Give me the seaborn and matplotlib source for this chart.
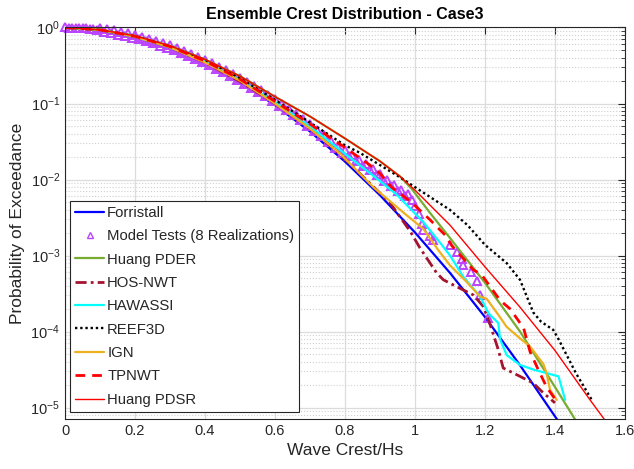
import numpy as np
import pandas as pd
import matplotlib
matplotlib.use("Agg")
import matplotlib.pyplot as plt
import seaborn as sns
from matplotlib.ticker import LogLocator, NullFormatter, FixedLocator

# ---------------- data ----------------
forr_x = [0, 0.1, 0.2, 0.3, 0.4, 0.5, 0.6, 0.7, 0.8, 0.9, 1.0, 1.1, 1.2, 1.3, 1.43]
forr_p = [1, 0.925, 0.746, 0.532, 0.336, 0.189, 0.0952, 0.0428, 0.0172, 0.00621,
          0.00201, 5.9e-4, 1.55e-4, 3.6e-5, 4.8e-6]

mt_x = [0.00, 0.01, 0.02, 0.03, 0.04, 0.05, 0.06, 0.07, 0.08, 0.09,
        0.10, 0.11, 0.12, 0.13, 0.14, 0.15, 0.16, 0.17, 0.18, 0.19,
        0.20, 0.21, 0.22, 0.23, 0.24, 0.25, 0.26, 0.27, 0.28, 0.29,
        0.30, 0.31, 0.32, 0.33, 0.34, 0.35, 0.36, 0.37, 0.38, 0.39,
        0.40, 0.41, 0.42, 0.43, 0.44, 0.45, 0.46, 0.47, 0.48, 0.49,
        0.50, 0.51, 0.52, 0.53, 0.54, 0.55, 0.56, 0.57, 0.58, 0.59,
        0.60, 0.61, 0.62, 0.63, 0.64, 0.65, 0.66, 0.67, 0.68, 0.69,
        0.70, 0.71, 0.72, 0.73, 0.74, 0.75, 0.76, 0.77, 0.78, 0.79,
        0.80, 0.81, 0.82, 0.83, 0.84, 0.85, 0.86, 0.87, 0.88, 0.89,
        0.90, 0.91, 0.92, 0.93, 0.94, 0.95, 0.96, 0.97, 0.98, 0.99,
        1.00, 1.01, 1.02, 1.024, 1.043, 1.052, 1.10, 1.119, 1.133, 1.136,
        1.159, 1.176, 1.187, 1.208]
mt_p = [1.0, 0.9991, 0.9965, 0.9917, 0.987, 0.9795, 0.9721, 0.9623, 0.9526, 0.9404,
        0.9833, 0.8630, 0.9537, 0.8348, 0.9201, 0.8035, 0.8835, 0.7700, 0.8444, 0.7336,
        0.8022, 0.6955, 0.7597, 0.6572, 0.7160, 0.6174, 0.6705, 0.5776, 0.6266, 0.5379,
        0.5816, 0.4984, 0.5375, 0.4602, 0.4958, 0.4229, 0.4543, 0.3866, 0.4144, 0.3520,
        0.3764, 0.3193, 0.3410, 0.2881, 0.3064, 0.2588, 0.2753, 0.2318, 0.2457, 0.2062,
        0.2179, 0.1828, 0.1932, 0.1613, 0.1697, 0.1418, 0.1492, 0.1244, 0.1306, 0.1085,
        0.1135, 0.09410, 0.09824, 0.08120, 0.08450, 0.06990, 0.07281, 0.05998, 0.06220,
        0.05117, 0.05301, 0.04357, 0.04509, 0.03686, 0.03794, 0.03098, 0.03185, 0.02594,
        0.02661, 0.02265, 0.02421, 0.02009, 0.02099, 0.01746, 0.01828, 0.01521, 0.01596,
        0.01327, 0.01390, 0.01140, 0.01180, 0.00966, 0.00998, 0.00818, 0.00847, 0.00705,
        0.00738, 0.00610, 0.00638, 0.00531,
        0.00447, 0.00355, 0.00263, 0.00219, 0.00178, 0.00158, 0.00138, 0.0011, 8.91e-4,
        7.59e-4, 6.03e-4, 4.57e-4, 3.02e-4, 1.51e-4]

pder_x = [0, 0.1, 0.2, 0.3, 0.4, 0.5, 0.6, 0.7, 0.8, 0.9, 0.957, 0.99, 1.043, 1.1,
          1.2, 1.3, 1.4, 1.47]
pder_p = [1, 0.933, 0.776, 0.575, 0.380, 0.229, 0.123, 0.0676, 0.0347, 0.0174, 0.0110,
          0.00759, 0.00363, 0.0017, 4.37e-4, 1.0e-4, 1.86e-5, 5.62e-6]

hos_x = [0, 0.1, 0.2, 0.3, 0.4, 0.5, 0.6, 0.7, 0.786, 0.833, 0.929, 0.986, 1.014,
         1.062, 1.081, 1.119, 1.167, 1.195, 1.214, 1.238, 1.252, 1.3, 1.338, 1.367, 1.4]
hos_p = [1, 0.933, 0.759, 0.550, 0.347, 0.195, 0.1, 0.0468, 0.0214, 0.0132, 0.0049,
         0.00209, 0.00126, 5.89e-4, 4.79e-4, 3.89e-4, 3.02e-4, 2.14e-4, 1.26e-4,
         5.75e-5, 3.31e-5, 2.57e-5, 2.09e-5, 1.55e-5, 1.15e-5]

haw_x = [0, 0.1, 0.2, 0.3, 0.4, 0.5, 0.6, 0.7, 0.786, 0.881, 0.948, 1.024, 1.075, 1.1,
         1.138, 1.186, 1.21, 1.238, 1.243, 1.262, 1.3, 1.338, 1.41, 1.429]
haw_p = [1, 0.933, 0.759, 0.550, 0.355, 0.204, 0.105, 0.0501, 0.0245, 0.0112, 0.00631,
         0.00275, 0.00141, 0.001, 5.25e-4, 2.88e-4, 1.74e-4, 1.29e-4, 7.94e-5, 4.9e-5,
         3.63e-5, 3.16e-5, 2.57e-5, 1.26e-5]

reef_x = [0, 0.1, 0.2, 0.3, 0.4, 0.5, 0.6, 0.7, 0.8, 0.843, 0.957, 1.043, 1.1, 1.15,
          1.2, 1.262, 1.3, 1.338, 1.36, 1.395, 1.41, 1.43, 1.46, 1.505]
reef_p = [1, 0.933, 0.767, 0.562, 0.372, 0.214, 0.112, 0.0562, 0.0282, 0.0224, 0.0107,
          0.00589, 0.00398, 0.00251, 0.00138, 7.94e-4, 4.79e-4, 1.78e-4, 1.35e-4,
          1.05e-4, 7.94e-5, 5.25e-5, 2.82e-5, 1.26e-5]

ign_x = [0, 0.1, 0.2, 0.3, 0.4, 0.5, 0.6, 0.7, 0.786, 0.881, 0.976, 1.024, 1.067, 1.1,
         1.148, 1.186, 1.205, 1.238, 1.262, 1.3, 1.329, 1.367, 1.376, 1.386, 1.405]
ign_p = [1, 0.933, 0.759, 0.550, 0.347, 0.2, 0.1, 0.0468, 0.0219, 0.00794, 0.00339,
         0.00224, 0.00117, 7.41e-4, 4.47e-4, 2.88e-4, 2.69e-4, 1.66e-4, 1.15e-4,
         8.13e-5, 6.31e-5, 3.72e-5, 2.82e-5, 1.7e-5, 1.26e-5]

tp_x = [0, 0.1, 0.2, 0.3, 0.4, 0.5, 0.6, 0.7, 0.8, 0.871, 0.9, 0.933, 0.99, 1.043,
        1.086, 1.105, 1.167, 1.19, 1.243, 1.271, 1.31, 1.329, 1.352, 1.376, 1.405]
tp_p = [1, 0.933, 0.767, 0.562, 0.363, 0.209, 0.107, 0.0537, 0.0263, 0.0155, 0.0120,
        0.00794, 0.00501, 0.00295, 0.00186, 0.00135, 6.46e-4, 5.62e-4, 2.57e-4, 2.0e-4,
        1.12e-4, 5.37e-5, 3.16e-5, 1.86e-5, 1.2e-5]

pdsr_x = [0, 0.1, 0.2, 0.3, 0.4, 0.5, 0.6, 0.7, 0.8, 0.9, 0.957, 1.0, 1.1, 1.2, 1.3,
          1.4, 1.5, 1.54, 1.56]
pdsr_p = [1, 0.933, 0.776, 0.575, 0.380, 0.229, 0.123, 0.0676, 0.0347, 0.0174, 0.0110,
          0.00724, 0.00251, 7.08e-4, 2.09e-4, 5.62e-5, 1.26e-5, 7.08e-6, 5.25e-6]

labels = ["Forristall", "Model Tests (8 Realizations)", "Huang PDER", "HOS-NWT",
          "HAWASSI", "REEF3D", "IGN", "TPNWT", "Huang PDSR"]
xticks = [0, 0.2, 0.4, 0.6, 0.8, 1.0, 1.2, 1.4, 1.6]
xticklabels = ["0", "0.2", "0.4", "0.6", "0.8", "1", "1.2", "1.4", "1.6"]

# ---------------- style ----------------
sns.set_theme(style="white")
plt.rcParams["font.family"] = ["Liberation Sans", "DejaVu Sans"]
plt.rcParams["mathtext.fontset"] = "custom"
plt.rcParams["mathtext.rm"] = "Liberation Sans"
plt.rcParams["mathtext.it"] = "Liberation Sans:italic"
plt.rcParams["mathtext.bf"] = "Liberation Sans:bold"

dark = "#262626"
purple = "#BB44FF"
fig = plt.figure(figsize=(6.34, 4.69), dpi=100)
ax = fig.add_axes([65 / 634, 1 - 419 / 469, 560 / 634, 391.5 / 469])

def line(x, y, color, lw, ls, label):
    sns.lineplot(x=x, y=y, color=color, linewidth=lw, linestyle=ls, label=label,
                 sort=False, estimator=None, ax=ax)

line(forr_x, forr_p, "#0000FF", 1.6, "-", labels[0])
sns.lineplot(x=mt_x, y=mt_p, ax=ax, sort=False, estimator=None, label=labels[1],
             linestyle="none", marker="^", markersize=6, markerfacecolor="none",
             markeredgecolor=purple, markeredgewidth=1.4, color=purple,
             clip_on=False)
line(pder_x, pder_p, "#77AC30", 1.6, "-", labels[2])
line(hos_x, hos_p, "#A2142F", 2.0, (0, (4, 1.5, 1, 1.5)), labels[3])
line(haw_x, haw_p, "#00FFFF", 1.6, "-", labels[4])
line(reef_x, reef_p, "#000000", 1.7, (0, (1, 1.2)), labels[5])
line(ign_x, ign_p, "#EDB120", 1.6, "-", labels[6])
line(tp_x, tp_p, "#FF0000", 2.0, (0, (3.5, 2.5)), labels[7])
line(pdsr_x, pdsr_p, "#FF0000", 1.0, "-", labels[8])

ax.set_yscale("log")
ax.set_xlim(0, 1.6)
ax.set_ylim(7.06e-6, 1)
ax.xaxis.set_major_locator(FixedLocator(xticks))
ax.set_xticklabels(xticklabels)
ax.yaxis.set_major_locator(LogLocator(base=10, numticks=10))
ax.yaxis.set_minor_locator(LogLocator(base=10, subs=np.arange(2, 10), numticks=20))
ax.yaxis.set_minor_formatter(NullFormatter())

ax.grid(True, which="major", color="#DCDCDC", linewidth=0.9, linestyle="-")
ax.grid(True, which="minor", axis="y", color="#D0D0D0", linewidth=0.8, linestyle=":")
ax.set_axisbelow(True)

ax.tick_params(which="both", direction="in", top=True, right=True, colors=dark,
               labelsize=10.5, labelcolor=dark)
ax.tick_params(which="major", length=5, width=0.8)
ax.tick_params(which="minor", length=3, width=0.6)
for s in ax.spines.values():
    s.set_color(dark)
    s.set_linewidth(0.8)

ax.set_xlabel("Wave Crest/Hs", fontsize=12.5, color=dark, labelpad=4)
ax.set_ylabel("Probability of Exceedance", fontsize=12.5, color=dark, labelpad=4)
ax.set_title("Ensemble Crest Distribution - Case3", fontsize=11.5, fontweight="bold",
             color="black", pad=6)

leg = ax.legend(loc="lower left", bbox_to_anchor=(0.009, 0.018), borderaxespad=0,
                fontsize=10.7, frameon=True, fancybox=False, edgecolor=dark,
                framealpha=1, handlelength=1.95, handletextpad=0.2,
                labelspacing=0.63, borderpad=0.35)
leg.get_frame().set_linewidth(0.8)
leg.legend_handles[1].set_markersize(4.5)
leg.legend_handles[1].set_markeredgewidth(1.0)
for t in leg.get_texts():
    t.set_color(dark)

fig.savefig("out.png", dpi=100)
